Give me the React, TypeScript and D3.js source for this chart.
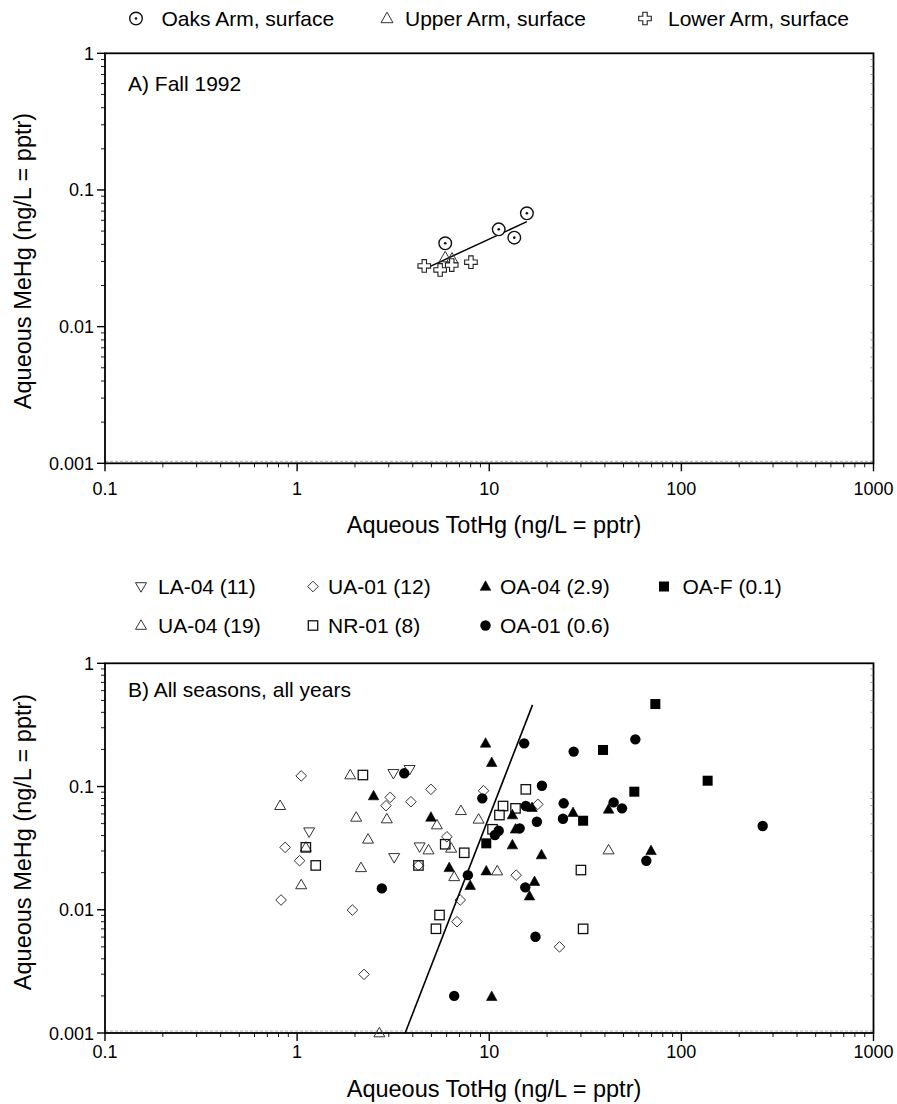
import React from 'react';
import * as d3 from 'd3';

const W = 897;
const H = 1104;
const FONT = "'Liberation Sans', Arial, Helvetica, sans-serif";

// ---------- Tick labels ----------
const xTickValues = [0.1, 1, 10, 100, 1000];
const xTickLabels = ['0.1', '1', '10', '100', '1000'];
const yTickValues = [0.001, 0.01, 0.1, 1];
const yTickLabels = ['0.001', '0.01', '0.1', '1'];

// ---------- Panel A: Fall 1992 ----------
const oaksArmX = [5.9, 11.2, 13.5, 15.7];
const oaksArmY = [0.0407, 0.0515, 0.0448, 0.0675];
const upperArmX = [5.9, 6.4];
const upperArmY = [0.032, 0.0313];
const lowerArmX = [4.59, 5.55, 6.38, 8.03];
const lowerArmY = [0.0278, 0.026, 0.0282, 0.0296];
const fitAX = [4.9, 15.7];
const fitAY = [0.0275, 0.0586];

// ---------- Panel B: All seasons, all years ----------
const la04X = [3.17, 3.85, 1.155, 3.2, 4.34];
const la04Y = [0.128, 0.138, 0.043, 0.0266, 0.0325];

const ua01X = [1.05, 3.05, 2.9, 0.866, 1.03, 0.825, 1.94, 2.23, 4.97, 3.91, 9.34, 17.9, 6.02, 4.28, 13.8, 7.06, 6.79, 23.2];
const ua01Y = [0.122, 0.0817, 0.0699, 0.0321, 0.025, 0.012, 0.00995, 0.00299, 0.0949, 0.0753, 0.0925, 0.0717, 0.0391, 0.0229, 0.0191, 0.012, 0.008, 0.005];

const ua04X = [1.89, 0.816, 2.03, 2.93, 1.11, 2.34, 2.15, 1.05, 2.68, 5.34, 7.12, 8.8, 4.83, 6.34, 6.57, 11.0, 41.8];
const ua04Y = [0.124, 0.0699, 0.0562, 0.0545, 0.0321, 0.0373, 0.0219, 0.0159, 0.001, 0.0487, 0.0636, 0.0542, 0.0305, 0.0315, 0.0185, 0.0206, 0.0305];

const nr01X = [2.2, 1.11, 1.25, 15.5, 11.8, 13.7, 11.3, 10.4, 5.9, 7.41, 4.28, 5.51, 5.28, 30.0, 30.8];
const nr01Y = [0.124, 0.0321, 0.0229, 0.0949, 0.0695, 0.0665, 0.0587, 0.045, 0.034, 0.029, 0.0229, 0.00906, 0.00701, 0.021, 0.007];

const oa04X = [2.5, 9.57, 10.3, 4.97, 16.7, 27.3, 13.2, 13.7, 13.2, 18.7, 6.19, 7.96, 9.65, 17.2, 16.2, 10.3, 41.8, 69.5];
const oa04Y = [0.0838, 0.224, 0.156, 0.0562, 0.0673, 0.0613, 0.0587, 0.045, 0.0335, 0.0278, 0.0219, 0.0157, 0.0206, 0.0169, 0.0129, 0.00197, 0.0653, 0.0301];

const oa01X = [2.76, 15.2, 27.5, 3.61, 9.2, 18.8, 15.5, 24.4, 24.2, 17.7, 11.2, 10.7, 14.4, 7.74, 15.4, 17.4, 6.57, 57.6, 44.4, 49.1, 265, 65.7];
const oa01Y = [0.0149, 0.224, 0.192, 0.128, 0.0802, 0.1015, 0.0695, 0.0731, 0.0548, 0.0518, 0.0438, 0.0404, 0.0458, 0.0191, 0.0152, 0.00604, 0.002, 0.2415, 0.0744, 0.0665, 0.0478, 0.025];

const oafX = [9.65, 73.2, 39.1, 137, 56.9, 30.8];
const oafY = [0.0346, 0.467, 0.198, 0.1115, 0.0908, 0.0528];

const fitBX = [3.65, 16.8];
const fitBY = [0.001, 0.46];

// ---------- Scales ----------
const xA = d3.scaleLog().domain([0.1, 1000]).range([105, 873.5]);
const yA = d3.scaleLog().domain([0.001, 1]).range([463.3, 53.3]);
const xB = d3.scaleLog().domain([0.1, 1000]).range([105, 873.5]);
const yB = d3.scaleLog().domain([0.001, 1]).range([1033, 663.3]);

// ---------- Marker shapes ----------
function triPath(w: number, h: number, down = false) {
  const s = down ? -1 : 1;
  return `M0,${-s * h * 0.6}L${w / 2},${s * h * 0.4}L${-w / 2},${s * h * 0.4}Z`;
}
function diamondPath(r: number) {
  return `M0,${-r}L${r},0L0,${r}L${-r},0Z`;
}
function crossPath(h: number, a: number) {
  return `M${-a},${-h}L${a},${-h}L${a},${-a}L${h},${-a}L${h},${a}L${a},${a}L${a},${h}L${-a},${h}L${-a},${a}L${-h},${a}L${-h},${-a}L${-a},${-a}Z`;
}

type Kind = 'triUp' | 'triDown' | 'diamond' | 'square' | 'circle' | 'triUpFill' | 'squareFill' | 'circleFill' | 'circleDot' | 'cross' | 'triUpA';

function Marker({ kind, cx, cy }: { kind: Kind; cx: number; cy: number }) {
  const t = `translate(${cx},${cy})`;
  switch (kind) {
    case 'triUp':
      return <path d={triPath(11, 9.5)} transform={t} fill="none" stroke="#333" strokeWidth={1} />;
    case 'triUpA':
      return <path d={triPath(12, 10.5)} transform={t} fill="none" stroke="#333" strokeWidth={1} />;
    case 'triDown':
      return <path d={triPath(11, 9.5, true)} transform={t} fill="none" stroke="#333" strokeWidth={1} />;
    case 'diamond':
      return <path d={diamondPath(5.3)} transform={t} fill="none" stroke="#333" strokeWidth={1} />;
    case 'square':
      return <rect x={cx - 4.7} y={cy - 4.7} width={9.4} height={9.4} fill="none" stroke="#111" strokeWidth={1.3} />;
    case 'circle':
      return <circle cx={cx} cy={cy} r={5} fill="none" stroke="#111" strokeWidth={1.2} />;
    case 'triUpFill':
      return <path d={triPath(10.5, 9.5)} transform={t} fill="#000" stroke="#000" strokeWidth={0.6} />;
    case 'squareFill':
      return <rect x={cx - 5} y={cy - 5} width={10} height={10} fill="#000" />;
    case 'circleFill':
      return <circle cx={cx} cy={cy} r={5.2} fill="#000" />;
    case 'circleDot':
      return (
        <g>
          <circle cx={cx} cy={cy} r={6.3} fill="#fff" stroke="#111" strokeWidth={1.4} />
          <circle cx={cx} cy={cy} r={1.3} fill="#111" />
        </g>
      );
    case 'cross':
      return <path d={crossPath(6.3, 2.2)} transform={t} fill="#fff" stroke="#222" strokeWidth={1.1} />;
  }
  return null;
}

function isMajor(v: number) {
  const l = Math.log10(v);
  return Math.abs(l - Math.round(l)) < 1e-9;
}

function Axes({ x, y, yTitleCy, xTitleCx, xTitleBase, xLabelBase }: any) {
  const [x0, x1] = x.range();
  const [yBot, yTop] = y.range();
  const xt: number[] = x.ticks();
  const yt: number[] = y.ticks();
  return (
    <g>
      {/* faint dotted line just above bottom axis */}
      <line x1={x0} x2={x1} y1={yBot - 2} y2={yBot - 2} stroke="#999" strokeWidth={0.8} strokeDasharray="3,2" />
      {/* frame */}
      <rect x={x0} y={yTop} width={x1 - x0} height={yBot - yTop} fill="none" stroke="#000" strokeWidth={1.8} />
      {/* bottom ticks */}
      {xt.map((v, i) => {
        const px = x(v);
        const len = isMajor(v) ? 8 : 4;
        return <line key={'xt' + i} x1={px} x2={px} y1={yBot} y2={yBot + len} stroke="#000" strokeWidth={isMajor(v) ? 1.4 : 0.9} />;
      })}
      {/* left ticks */}
      {yt.map((v, i) => {
        const py = y(v);
        const len = isMajor(v) ? 8 : 4;
        return <line key={'yt' + i} x1={x0 - len} x2={x0} y1={py} y2={py} stroke="#000" strokeWidth={isMajor(v) ? 1.4 : 0.9} />;
      })}
      {/* right inner minor ticks */}
      {yt.filter((v) => !isMajor(v)).map((v, i) => (
        <line key={'yr' + i} x1={x1 - 3} x2={x1} y1={y(v)} y2={y(v)} stroke="#777" strokeWidth={0.7} />
      ))}
      {/* x tick labels */}
      {xTickValues.map((v, i) => (
        <text key={'xl' + i} x={x(v)} y={xLabelBase} textAnchor="middle" fontSize={18} fontFamily={FONT} fill="#000">
          {xTickLabels[i]}
        </text>
      ))}
      {/* y tick labels */}
      {yTickValues.map((v, i) => (
        <text key={'yl' + i} x={x0 - 11} y={y(v) + 6.5} textAnchor="end" fontSize={18} fontFamily={FONT} fill="#000">
          {yTickLabels[i]}
        </text>
      ))}
      <text x={xTitleCx} y={xTitleBase} textAnchor="middle" fontSize={23.5} fontFamily={FONT} fill="#000">
        Aqueous TotHg (ng/L = pptr)
      </text>
      <text
        transform={`translate(31,${yTitleCy}) rotate(-90)`}
        textAnchor="middle"
        fontSize={23.5}
        fontFamily={FONT}
        fill="#000"
      >
        Aqueous MeHg (ng/L = pptr)
      </text>
    </g>
  );
}

function Series({ xs, ys, x, y, kind }: any) {
  return (
    <g>
      {xs.map((v: number, i: number) => (
        <Marker key={i} kind={kind} cx={x(v)} cy={y(ys[i])} />
      ))}
    </g>
  );
}

function LegendItem({ kind, mx, tx, cy, label }: any) {
  return (
    <g>
      <Marker kind={kind} cx={mx} cy={cy} />
      <text x={tx} y={cy + 7} fontSize={21} fontFamily={FONT} fill="#000">
        {label}
      </text>
    </g>
  );
}

export default function App() {
  const lineA = d3
    .line<number>()
    .x((d) => xA(fitAX[d]))
    .y((d) => yA(fitAY[d]));
  const lineB = d3
    .line<number>()
    .x((d) => xB(fitBX[d]))
    .y((d) => yB(fitBY[d]));

  return (
    <svg
      width={W}
      height={H}
      viewBox={`0 0 ${W} ${H}`}
      style={{ position: 'absolute', left: 0, top: 0, background: '#fff' }}
    >
      <rect x={0} y={0} width={W} height={H} fill="#fff" />

      {/* Legend A */}
      <LegendItem kind="circleDot" mx={136} tx={161.5} cy={18.5} label="Oaks Arm, surface" />
      <LegendItem kind="triUpA" mx={387} tx={405} cy={18.5} label="Upper Arm, surface" />
      <LegendItem kind="cross" mx={645} tx={668} cy={18.5} label="Lower Arm, surface" />

      {/* Panel A */}
      <Axes x={xA} y={yA} yTitleCy={261} xTitleCx={494} xTitleBase={533} xLabelBase={495} />
      <text x={128} y={90.5} fontSize={21} fontFamily={FONT} fill="#000">
        A) Fall 1992
      </text>
      <path d={lineA([0, 1]) || ''} fill="none" stroke="#000" strokeWidth={1.5} />
      <Series xs={upperArmX} ys={upperArmY} x={xA} y={yA} kind="triUpA" />
      <Series xs={lowerArmX} ys={lowerArmY} x={xA} y={yA} kind="cross" />
      <Series xs={oaksArmX} ys={oaksArmY} x={xA} y={yA} kind="circleDot" />

      {/* Legend B */}
      <LegendItem kind="triDown" mx={141} tx={158} cy={586.5} label="LA-04 (11)" />
      <LegendItem kind="diamond" mx={313} tx={328} cy={586.5} label="UA-01 (12)" />
      <LegendItem kind="triUpFill" mx={485.5} tx={500} cy={586.5} label="OA-04 (2.9)" />
      <LegendItem kind="squareFill" mx={664} tx={682.5} cy={586.5} label="OA-F (0.1)" />
      <LegendItem kind="triUp" mx={141} tx={158} cy={625.5} label="UA-04 (19)" />
      <LegendItem kind="square" mx={313} tx={328} cy={625.5} label="NR-01 (8)" />
      <LegendItem kind="circleFill" mx={485.5} tx={500} cy={625.5} label="OA-01 (0.6)" />

      {/* Panel B */}
      <Axes x={xB} y={yB} yTitleCy={842} xTitleCx={494} xTitleBase={1096.5} xLabelBase={1058} />
      <text x={128} y={696.5} fontSize={21} fontFamily={FONT} fill="#000">
        B) All seasons, all years
      </text>
      <Series xs={la04X} ys={la04Y} x={xB} y={yB} kind="triDown" />
      <Series xs={ua01X} ys={ua01Y} x={xB} y={yB} kind="diamond" />
      <Series xs={ua04X} ys={ua04Y} x={xB} y={yB} kind="triUp" />
      <Series xs={nr01X} ys={nr01Y} x={xB} y={yB} kind="square" />
      <Series xs={oa04X} ys={oa04Y} x={xB} y={yB} kind="triUpFill" />
      <Series xs={oa01X} ys={oa01Y} x={xB} y={yB} kind="circleFill" />
      <Series xs={oafX} ys={oafY} x={xB} y={yB} kind="squareFill" />
      <path d={lineB([0, 1]) || ''} fill="none" stroke="#000" strokeWidth={1.6} />
    </svg>
  );
}
